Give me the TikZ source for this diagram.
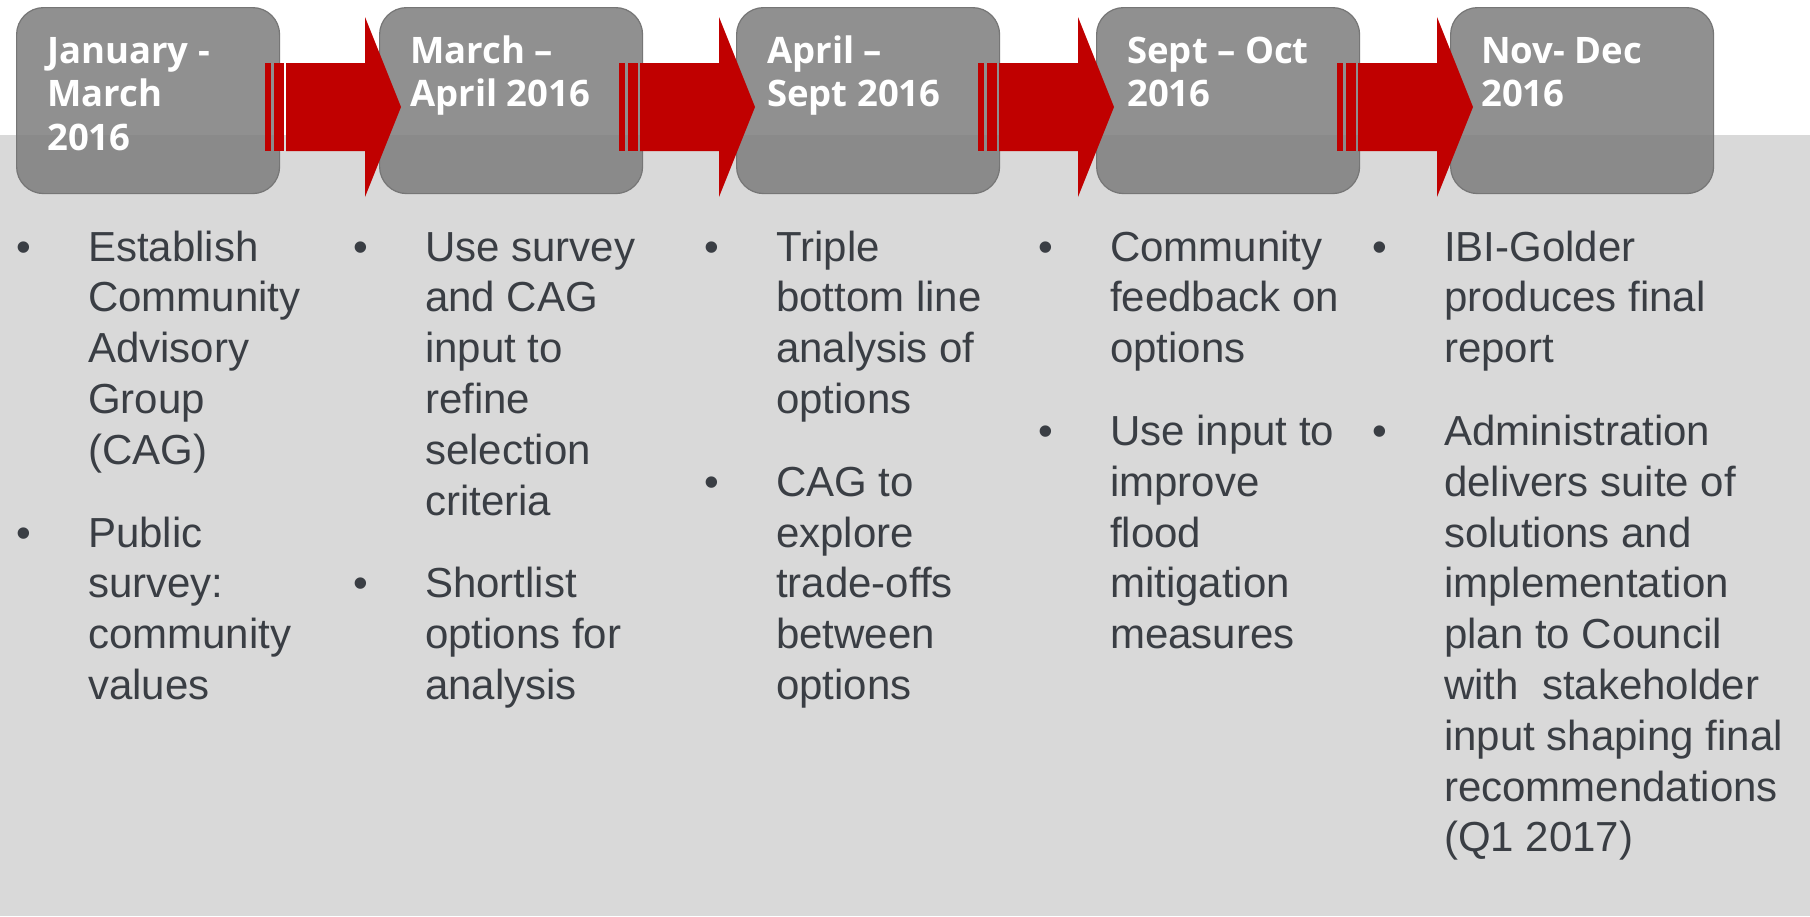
\documentclass[tikz,border=0pt]{standalone}
\usepackage{fontspec}
\setmainfont{Liberation Sans}
\newfontfamily\headfont{Open Sans}
\definecolor{arrowred}{RGB}{192,0,0}
\definecolor{boxgray}{RGB}{123,123,123}
\definecolor{boxedge}{RGB}{118,118,118}
\definecolor{panelgray}{RGB}{217,217,217}
\definecolor{bodytext}{RGB}{58,62,68}
\newcommand{\bitem}{\leavevmode\llap{\textbullet\hspace{57pt}}}
\newcommand{\itemgap}{\par\vspace{32pt}}
\begin{document}
\begin{tikzpicture}[x=1pt,y=-1pt,
  datebox/.style={draw=boxedge, line width=1.2pt, fill=boxgray, fill opacity=0.84,
    rounded corners=27pt, minimum width=263pt, minimum height=186pt,
    anchor=north west, inner sep=0pt},
  datetext/.style={anchor=base west, inner sep=0pt, text=white,
    font=\headfont\bfseries\fontsize{36.5}{43.5}\selectfont},
  coltext/.style={anchor=base west, inner sep=0pt, text=bodytext,
    font=\fontsize{42}{50.8}\selectfont},
  stripedarrow/.pic={
    \fill[arrowred] (0,-44) rectangle (6,44);
    \fill[arrowred] (8.5,-44) rectangle (18.5,44);
    \fill[arrowred] (21,-44) -- (100,-44) -- (100,-90) -- (136,0)
      -- (100,90) -- (100,44) -- (21,44) -- cycle;
  }
]
\useasboundingbox (0,0) rectangle (1810,916);
\fill[white] (0,0) rectangle (1810,916);
\fill[panelgray] (0,135) rectangle (1810,916);

% date boxes
\node[datebox] (b1) at (16,7) {};
\node[datebox] (b2) at (379,7) {};
\node[datebox] (b3) at (736,7) {};
\node[datebox] (b4) at (1096,7) {};
\node[datebox] (b5) at (1450,7) {};

% striped arrows
\pic (a1) at (265,107) {stripedarrow};
\pic (a2) at (619,107) {stripedarrow};
\pic (a3) at (978,107) {stripedarrow};
\pic (a4) at (1337,107) {stripedarrow};

% header texts
\node[datetext] (t1) at ([xshift=31pt,yshift=-56pt]b1.north west)
  {\parbox[t]{240pt}{\raggedright January -\\March\\2016}};
\node[datetext] (t2) at ([xshift=31pt,yshift=-56pt]b2.north west)
  {\parbox[t]{240pt}{\raggedright March –\\April 2016}};
\node[datetext] (t3) at ([xshift=31pt,yshift=-56pt]b3.north west)
  {\parbox[t]{240pt}{\raggedright April –\\Sept 2016}};
\node[datetext] (t4) at ([xshift=31pt,yshift=-56pt]b4.north west)
  {\parbox[t]{240pt}{\raggedright Sept – Oct\\2016}};
\node[datetext] (t5) at ([xshift=31pt,yshift=-56pt]b5.north west)
  {\parbox[t]{240pt}{\raggedright Nov- Dec\\2016}};

% body columns
\node[coltext] (c1) at (88,261) {\parbox[t]{330pt}{\raggedright
  \bitem Establish\\Community\\Advisory\\Group\\(CAG)\itemgap
  \bitem Public\\survey:\\community\\values}};
\node[coltext] (c2) at (425,261) {\parbox[t]{330pt}{\raggedright
  \bitem Use survey\\and CAG\\input to\\refine\\selection\\criteria\itemgap
  \bitem Shortlist\\options for\\analysis}};
\node[coltext] (c3) at (776,261) {\parbox[t]{330pt}{\raggedright
  \bitem Triple\\bottom line\\analysis of\\options\itemgap
  \bitem CAG to\\explore\\trade-offs\\between\\options}};
\node[coltext] (c4) at (1110,261) {\parbox[t]{330pt}{\raggedright
  \bitem Community\\feedback on\\options\itemgap
  \bitem Use input to\\improve\\flood\\mitigation\\measures}};
\node[coltext] (c5) at (1444,261) {\parbox[t]{360pt}{\raggedright
  \bitem IBI-Golder\\produces final\\report\itemgap
  \bitem Administration\\delivers suite of\\solutions and\\implementation\\plan to Council\\with\ \ stakeholder\\input shaping final\\recommendations\\(Q1 2017)}};
\end{tikzpicture}
\end{document}
